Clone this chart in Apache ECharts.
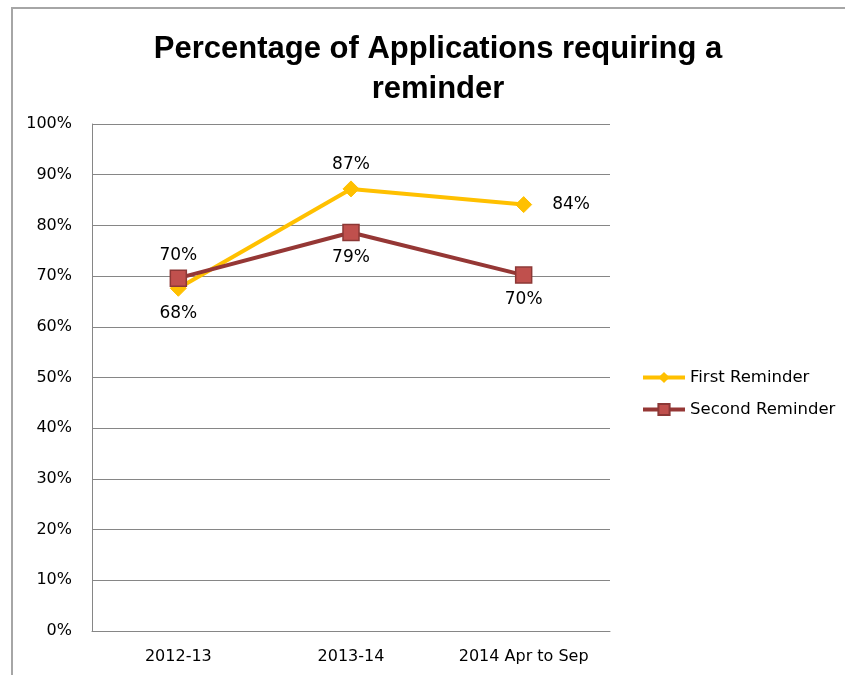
<!DOCTYPE html>
<html>
<head>
<meta charset="utf-8">
<script src="https://cdn.jsdelivr.net/npm/echarts@6/dist/echarts.min.js"></script>
<style>
  html, body { margin: 0; padding: 0; background: #fff; }
  #chart { width: 845px; height: 675px; }
</style>
</head>
<body>
<div id="chart"></div>
<script>
// Reporting periods
var categories = ['2012-13', '2013-14', '2014 Apr to Sep'];

// Share of applications (%) that needed a reminder
var firstReminder = [67.6, 87.2, 84.1];
var secondReminder = [69.6, 78.6, 70.2];

// Value-axis tick labels (0..100 step 10)
var yTicks = [0, 10, 20, 30, 40, 50, 60, 70, 80, 90, 100];

// Where each point's value label sits
var firstLabelPos = ['bottom', 'top', 'right'];
var secondLabelPos = ['top', 'bottom', 'bottom'];
var firstLabelGap = [8, 7, 20];
var secondLabelGap = [5, 8, 7];

var FONT = 'DejaVu Sans';

function withLabels(values, positions, gaps) {
  return values.map(function (v, i) {
    return { value: v, label: { position: positions[i], distance: gaps[i] } };
  });
}

var chart = echarts.init(document.getElementById('chart'), null, { renderer: 'canvas' });

chart.setOption({
  animation: false,
  backgroundColor: '#ffffff',
  title: {
    text: 'Percentage of Applications requiring a\nreminder',
    left: 433,
    top: 24,
    textAlign: 'center',
    textStyle: {
      fontFamily: 'Liberation Sans',
      fontWeight: 'bold',
      fontSize: 31,
      lineHeight: 40,
      color: '#000'
    }
  },
  grid: { left: 92, right: 235, top: 124, bottom: 44, containLabel: false },
  legend: {
    orient: 'vertical',
    left: 636,
    top: 364,
    itemWidth: 42,
    itemHeight: 14,
    itemGap: 15,
    lineStyle: { width: 4 },
    textStyle: { fontFamily: FONT, fontSize: 16.5, color: '#000' },
    data: ['First Reminder', 'Second Reminder']
  },
  xAxis: {
    type: 'category',
    data: categories,
    boundaryGap: true,
    axisLine: { lineStyle: { color: '#868686', width: 1 } },
    axisTick: { show: false },
    axisLabel: { interval: 0, fontFamily: FONT, fontSize: 16, color: '#000', margin: 18 }
  },
  yAxis: {
    type: 'value',
    min: yTicks[0],
    max: yTicks[yTicks.length - 1],
    interval: 10,
    axisLine: { show: true, lineStyle: { color: '#868686', width: 1 } },
    axisTick: { show: false },
    splitLine: { lineStyle: { color: '#868686', width: 1 } },
    axisLabel: {
      fontFamily: FONT,
      fontSize: 16,
      color: '#000',
      margin: 20,
      formatter: function (v) { return v + '%'; }
    }
  },
  series: [
    {
      name: 'First Reminder',
      type: 'line',
      data: withLabels(firstReminder, firstLabelPos, firstLabelGap),
      symbol: 'diamond',
      symbolSize: 16,
      z: 2,
      lineStyle: { color: '#FFC000', width: 4 },
      itemStyle: { color: '#FFC000', borderColor: '#FFC000' },
      label: {
        show: true,
        fontFamily: FONT,
        fontSize: 17,
        color: '#000',
        formatter: function (p) { return Math.round(p.value) + '%'; }
      }
    },
    {
      name: 'Second Reminder',
      type: 'line',
      data: withLabels(secondReminder, secondLabelPos, secondLabelGap),
      symbol: 'rect',
      symbolSize: 16,
      z: 3,
      lineStyle: { color: '#953735', width: 4 },
      itemStyle: { color: '#C0504D', borderColor: '#8C3836', borderWidth: 1.5 },
      label: {
        show: true,
        fontFamily: FONT,
        fontSize: 17,
        color: '#000',
        formatter: function (p) { return Math.round(p.value) + '%'; }
      }
    }
  ],
  graphic: [
    {
      type: 'polyline',
      shape: { points: [[12, 675], [12, 8], [845, 8]] },
      style: { stroke: '#a6a6a6', lineWidth: 2, fill: null },
      silent: true
    }
  ]
});
</script>
</body>
</html>
